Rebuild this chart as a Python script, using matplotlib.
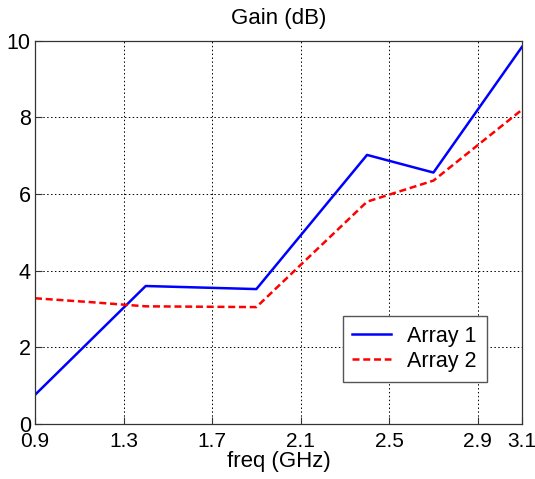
import numpy as np
import matplotlib.pyplot as plt

plt.rcParams['font.family'] = ['Liberation Sans', 'DejaVu Sans']

# frequency points (GHz) and gain values (dB)
freq1 = [0.9, 1.4, 1.9, 2.4, 2.7, 3.1]
gain1 = [0.76, 3.6, 3.52, 7.02, 6.56, 9.84]

freq2 = [0.9, 1.15, 1.4, 1.9, 2.4, 2.7, 3.1]
gain2 = [3.28, 3.18, 3.07, 3.05, 5.8, 6.35, 8.2]

xticks = [0.9, 1.3, 1.7, 2.1, 2.5, 2.9, 3.1]
yticks = [0, 2, 4, 6, 8, 10]

fig = plt.figure(figsize=(5.35, 4.79), dpi=100)
ax = fig.add_axes([35 / 535, 1 - 424 / 479, 487 / 535, 383.3 / 479])

ax.plot(freq1, gain1, color='#0000ff', lw=1.8, label='Array 1')
ax.plot(freq2, gain2, color='#ff0000', lw=1.8, ls=(0, (2.8, 1.5)), label='Array 2')

ax.set_xlim(0.9, 3.1)
ax.set_ylim(0, 10)
ax.set_xticks(xticks)
ax.set_xticklabels([str(t) for t in xticks])
ax.set_yticks(yticks)
ax.tick_params(direction='in', labelsize=15.5, length=5, width=0.8, pad=3,
               color='#333333')
ax.tick_params(axis='x', labelsize=15, pad=6)
ax.grid(True, color='black', ls=(0, (1.5, 2.5)), lw=0.7)
for s in ax.spines.values():
    s.set_color('#333333')
    s.set_linewidth(0.9)

ax.set_title('Gain (dB)', fontsize=16, pad=12)
ax.set_xlabel('freq (GHz)', fontsize=16, labelpad=0)

leg = ax.legend(loc='upper left', bbox_to_anchor=(0.632, 0.282), fontsize=15.5,
                fancybox=False, framealpha=1, edgecolor='#555555',
                handlelength=1.8, handletextpad=0.75, borderpad=0.45,
                borderaxespad=0, labelspacing=0.2)
leg.get_frame().set_linewidth(1.0)

fig.savefig('out.png', dpi=100)
